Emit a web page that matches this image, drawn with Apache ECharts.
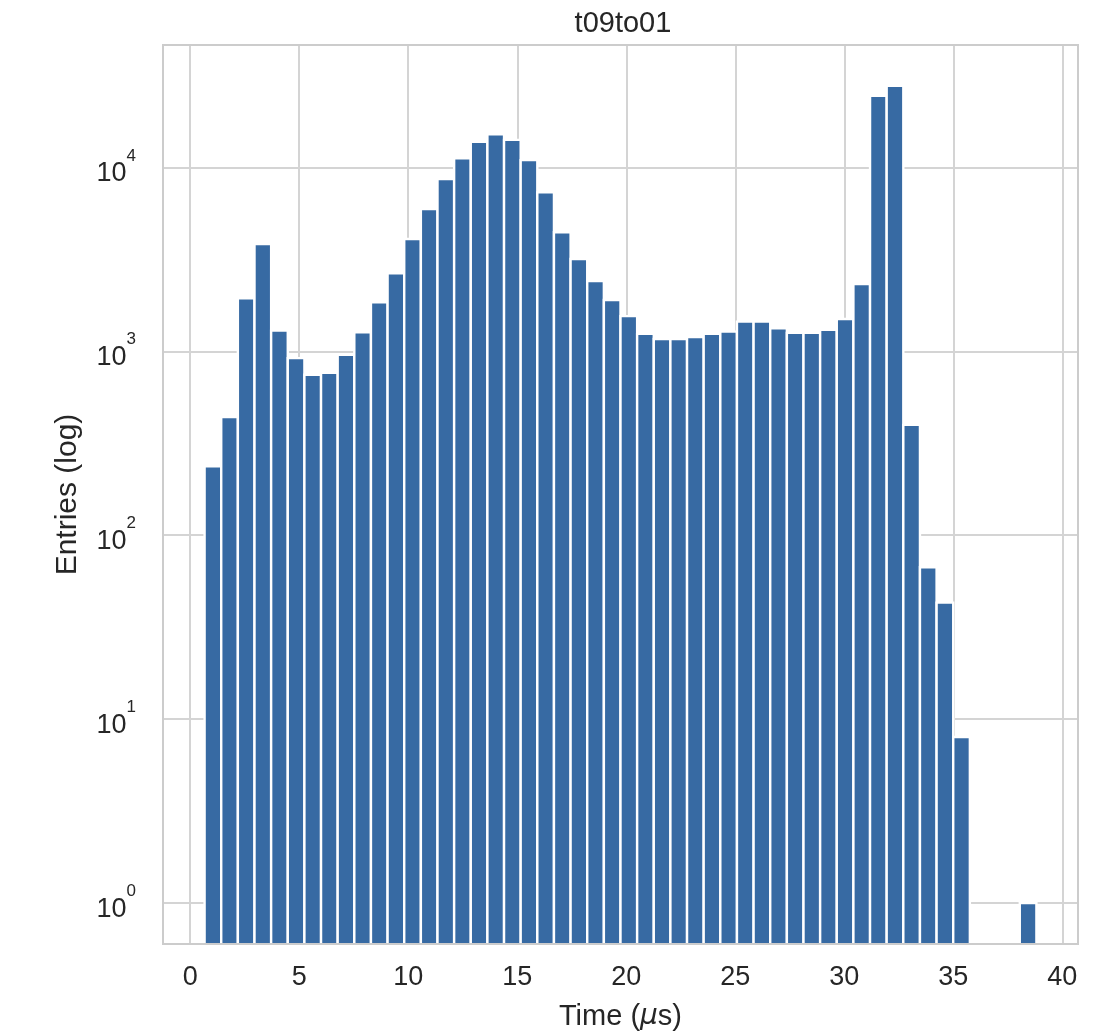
<!DOCTYPE html>
<html>
<head>
<meta charset="utf-8">
<title>t09to01</title>
<script src="https://cdn.jsdelivr.net/npm/echarts@6/dist/echarts.min.js"></script>
<style>
  html, body { margin: 0; padding: 0; background: #ffffff; }
  #chart { width: 1117px; height: 1036px; }
</style>
</head>
<body>
<div id="chart"></div>
<script>
// Histogram of hit times, 50 equal bins between the first and last entry
const chartTitle = 't09to01';
const histRange = [0.66, 38.81];
const binCount = 50;
const counts = [
  237, 439, 1942, 3830, 1295, 918, 745, 764, 956, 1270,
  1848, 2654, 4076, 5930, 8630, 11180, 13750, 15140, 14100, 10940,
  7310, 4433, 3176, 2411, 1901, 1552, 1243, 1167, 1167, 1193,
  1243, 1279, 1450, 1450, 1334, 1259, 1259, 1307, 1499, 2322,
  24450, 27720, 398, 67, 43, 8, 0, 0, 0, 1
];
const xTicks = [0, 5, 10, 15, 20, 25, 30, 35, 40];
const yTickExponents = [0, 1, 2, 3, 4];

const FONT = '"Liberation Sans", Arial, Helvetica, sans-serif';
const TEXT = '#262626';
const GRID = '#d4d4d4';
const BAR = '#376aa3';

// bin edges -> [start, end, count]; empty bins are not drawn on the log scale
const binWidth = (histRange[1] - histRange[0]) / binCount;
const bins = [];
counts.forEach(function (c, i) {
  if (c > 0) {
    bins.push([histRange[0] + i * binWidth, histRange[0] + (i + 1) * binWidth, c]);
  }
});

// axis limits with a 5% pad (linear on x, in decades on y)
const xSpan = histRange[1] - histRange[0];
const xMin = histRange[0] - 0.05 * xSpan;
const xMax = histRange[1] + 0.05 * xSpan;
const logTop = Math.log10(Math.max.apply(null, counts));
const yMin = Math.pow(10, -0.05 * logTop);
const yMax = Math.pow(10, logTop * 1.05);

const tickStep = xTicks[1] - xTicks[0];

const chart = echarts.init(document.getElementById('chart'), null, { renderer: 'canvas' });

chart.setOption({
  backgroundColor: '#ffffff',
  animation: false,
  title: {
    text: chartTitle,
    left: 618,
    top: 4,
    textAlign: 'center',
    textStyle: { fontFamily: FONT, fontSize: 29, fontWeight: 'normal', color: TEXT }
  },
  grid: {
    left: 163, right: 39, top: 45, bottom: 91,
    show: true, z: 5,
    backgroundColor: 'transparent',
    borderColor: '#cccccc', borderWidth: 2
  },
  xAxis: {
    type: 'value',
    min: xMin, max: xMax,
    minInterval: tickStep, maxInterval: tickStep,
    name: '{t|Time (}{m|μ}{t|s)}',
    nameLocation: 'middle',
    nameGap: 58,
    nameTextStyle: {
      rich: {
        t: { fontFamily: FONT, fontSize: 29, color: TEXT },
        m: { fontFamily: '"DejaVu Sans", sans-serif', fontSize: 28, fontStyle: 'italic', color: TEXT }
      }
    },
    axisLine: { show: false },
    axisTick: { show: false },
    axisLabel: {
      showMinLabel: false, showMaxLabel: false,
      margin: 20,
      fontFamily: FONT, fontSize: 27, color: TEXT,
      formatter: function (v) {
        return xTicks.indexOf(Math.round(v * 1000) / 1000) >= 0 ? String(Math.round(v)) : '';
      }
    },
    splitLine: { show: true, lineStyle: { color: GRID, width: 2 } }
  },
  yAxis: {
    type: 'log',
    logBase: 10,
    min: yMin, max: yMax,
    name: 'Entries (log)',
    nameLocation: 'middle',
    nameGap: 80,
    nameTextStyle: { fontFamily: FONT, fontSize: 30, color: TEXT },
    axisLine: { show: false },
    axisTick: { show: false },
    axisLabel: {
      showMinLabel: false, showMaxLabel: false,
      margin: 27,
      formatter: function (v) {
        const e = Math.round(Math.log10(v));
        if (Math.abs(Math.log10(v) - e) > 1e-6 || yTickExponents.indexOf(e) < 0) return '';
        return '{b|10}{s|' + e + '}';
      },
      rich: {
        b: { fontFamily: FONT, fontSize: 27, color: TEXT, lineHeight: 40, verticalAlign: 'bottom' },
        s: { fontFamily: FONT, fontSize: 17, color: TEXT, lineHeight: 24, verticalAlign: 'top' }
      }
    },
    splitLine: { show: true, lineStyle: { color: GRID, width: 2 } }
  },
  series: [{
    type: 'custom',
    clip: true,
    encode: { x: [0, 1], y: 2 },
    data: bins,
    renderItem: function (params, api) {
      const topLeft = api.coord([api.value(0), api.value(2)]);
      const topRight = api.coord([api.value(1), api.value(2)]);
      const cs = params.coordSys;
      const bottom = cs.y + cs.height + 4;
      return {
        type: 'rect',
        shape: {
          x: topLeft[0],
          y: topLeft[1],
          width: topRight[0] - topLeft[0],
          height: bottom - topLeft[1]
        },
        style: { fill: BAR, stroke: '#ffffff', lineWidth: 2.4 }
      };
    }
  }]
});
</script>
</body>
</html>
